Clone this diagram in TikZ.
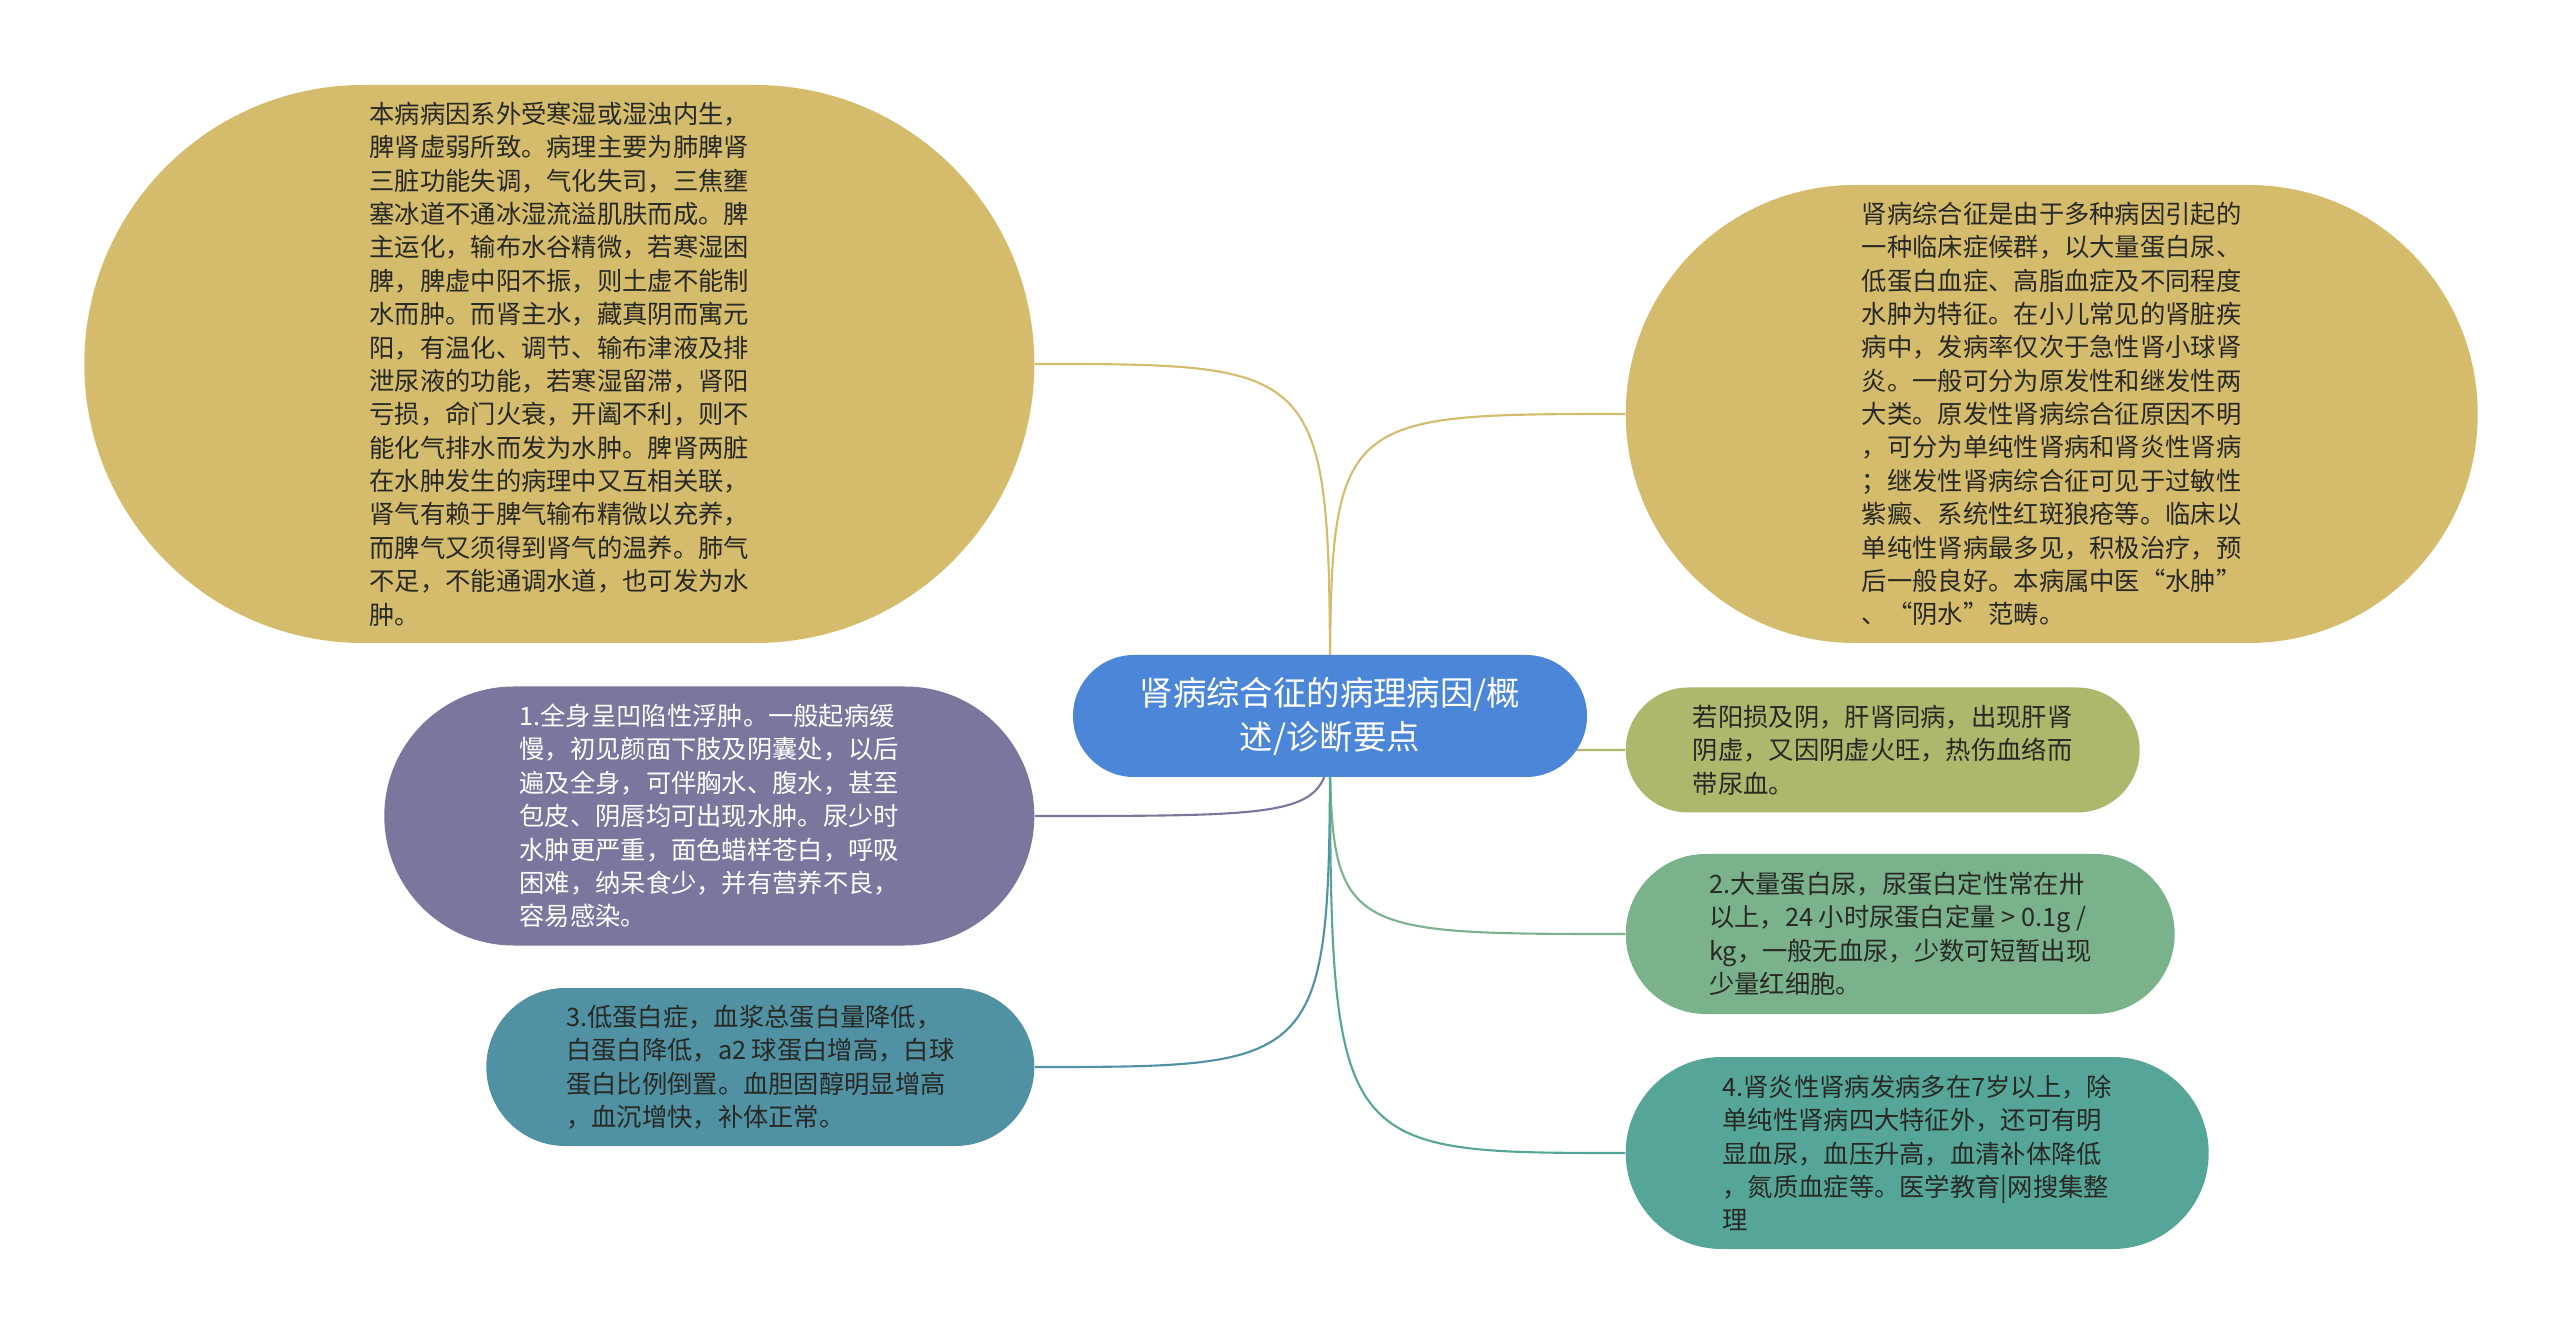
\documentclass[tikz,border=0pt]{standalone}
\usepackage{fontspec}
\newfontfamily\cjk{Noto Sans CJK SC}
\usetikzlibrary{shapes.misc,backgrounds}

\definecolor{sand}{RGB}{212,188,108}
\definecolor{hubblue}{RGB}{76,134,216}
\definecolor{olive}{RGB}{175,183,108}
\definecolor{lilac}{RGB}{121,119,158}
\definecolor{seablue}{RGB}{80,145,163}
\definecolor{sage}{RGB}{122,178,140}
\definecolor{jade}{RGB}{85,165,152}
\definecolor{ink}{RGB}{40,40,36}

\tikzset{
  bubble/.style={rounded rectangle, inner xsep=0pt, inner ysep=0pt, align=left, text=ink,
    font=\cjk\fontsize{7.2pt}{9.5pt}\selectfont},
  hub/.style={rounded rectangle, inner xsep=0pt, inner ysep=0pt, fill=hubblue, text=white, align=center,
    font=\cjk\fontsize{9.5pt}{12.5pt}\selectfont, minimum width=5.14cm, minimum height=1.22cm},
  branch/.style={line width=0.6pt, to path={.. controls (\tikztostart |- \tikztotarget) .. (\tikztotarget)}},
}

\begin{document}
\begin{tikzpicture}
    \useasboundingbox (0,0) rectangle (25.60,13.33);
    \node[hub] (c) at (13.30,6.17) {肾病综合征的病理病因/概\\述/诊断要点};
    \node[bubble, fill=sand, minimum width=9.50cm, minimum height=5.58cm, anchor=east] (tl) at (10.35,9.69)
        {本病病因系外受寒湿或湿浊内生，\\脾肾虚弱所致。病理主要为肺脾肾\\三脏功能失调，气化失司，三焦壅\\塞冰道不通冰湿流溢肌肤而成。脾\\主运化，输布水谷精微，若寒湿困\\脾，脾虚中阳不振，则土虚不能制\\水而肿。而肾主水，藏真阴而寓元\\阳，有温化、调节、输布津液及排\\泄尿液的功能，若寒湿留滞，肾阳\\亏损，命门火衰，开阖不利，则不\\能化气排水而发为水肿。脾肾两脏\\在水肿发生的病理中又互相关联，\\肾气有赖于脾气输布精微以充养，\\而脾气又须得到肾气的温养。肺气\\不足，不能通调水道，也可发为水\\肿。};
    \node[bubble, fill=sand, minimum width=8.52cm, minimum height=4.58cm, anchor=west] (tr) at (16.25,9.19)
        {肾病综合征是由于多种病因引起的\\一种临床症候群，以大量蛋白尿、\\低蛋白血症、高脂血症及不同程度\\水肿为特征。在小儿常见的肾脏疾\\病中，发病率仅次于急性肾小球肾\\炎。一般可分为原发性和继发性两\\大类。原发性肾病综合征原因不明\\，可分为单纯性肾病和肾炎性肾病\\；继发性肾病综合征可见于过敏性\\紫癜、系统性红斑狼疮等。临床以\\单纯性肾病最多见，积极治疗，预\\后一般良好。本病属中医“水肿”\\、“阴水”范畴。};
    \node[bubble, fill=lilac, text=white, minimum width=6.50cm, minimum height=2.59cm, anchor=east] (l1) at (10.35,5.17)
        {1.全身呈凹陷性浮肿。一般起病缓\\慢，初见颜面下肢及阴囊处，以后\\遍及全身，可伴胸水、腹水，甚至\\包皮、阴唇均可出现水肿。尿少时\\水肿更严重，面色蜡样苍白，呼吸\\困难，纳呆食少，并有营养不良，\\容易感染。};
    \node[bubble, fill=seablue, minimum width=5.48cm, minimum height=1.58cm, anchor=east] (l3) at (10.35,2.66)
        {3.低蛋白症，血浆总蛋白量降低，\\白蛋白降低，a2 球蛋白增高，白球\\蛋白比例倒置。血胆固醇明显增高\\，血沉增快，补体正常。};
    \node[bubble, fill=olive, minimum width=5.14cm, minimum height=1.25cm, anchor=west] (r0) at (16.25,5.83)
        {若阳损及阴，肝肾同病，出现肝肾\\阴虚，又因阴虚火旺，热伤血络而\\带尿血。};
    \node[bubble, fill=sage, minimum width=5.49cm, minimum height=1.60cm, anchor=west] (r2) at (16.25,3.99)
        {2.大量蛋白尿，尿蛋白定性常在卅\\以上，24 小时尿蛋白定量 > 0.1g /\\kg，一般无血尿，少数可短暂出现\\少量红细胞。};
    \node[bubble, fill=jade, minimum width=5.83cm, minimum height=1.92cm, anchor=west] (r4) at (16.25,1.80)
        {4.肾炎性肾病发病多在7岁以上，除\\单纯性肾病四大特征外，还可有明\\显血尿，血压升高，血清补体降低\\，氮质血症等。医学教育|网搜集整\\理};
    \begin{pgfonlayer}{background}
    \fill[white] (0,0) rectangle (25.60,13.33);
    \draw
    (c.center) edge[branch, sand] (tl.east)
    (c.center) edge[branch, sand] (tr.west)
    (c.center) edge[branch, olive] (r0.west)
    (c.center) edge[branch, lilac] (l1.east)
    (c.center) edge[branch, seablue] (l3.east)
    (c.center) edge[branch, sage] (r2.west)
    (c.center) edge[branch, jade] (r4.west)
;
    \end{pgfonlayer}
\end{tikzpicture}
\end{document}
